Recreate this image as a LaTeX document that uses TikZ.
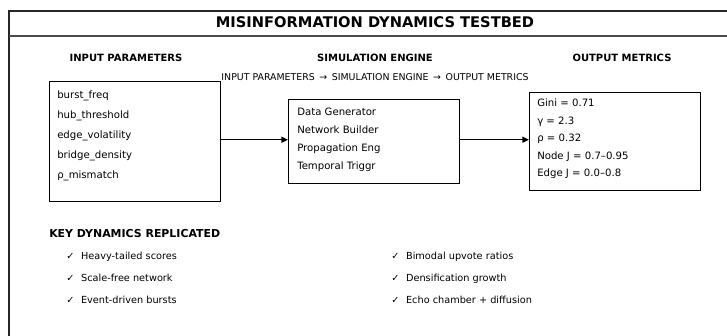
\documentclass[tikz,border=0pt]{standalone}
\usepackage{fontspec}
\setmainfont{DejaVu Sans}
\usetikzlibrary{arrows.meta}
\begin{document}
\begin{tikzpicture}[x=0.75pt,y=-0.75pt,
  box/.style={draw=black,line width=1.1pt,inner sep=0pt,anchor=north west},
  item/.style={anchor=mid west,inner sep=0pt,font=\fontsize{7.6pt}{9pt}\selectfont},
  head/.style={anchor=mid,inner sep=0pt,font=\fontsize{7.5pt}{9pt}\selectfont\bfseries},
  chk/.style={anchor=mid west,inner sep=0pt,font=\fontsize{7.3pt}{9pt}\selectfont},
  arr/.style={line width=1pt,-{Triangle[length=5pt,width=4.5pt]}}]
\useasboundingbox (0,0) rectangle (727,335);
\clip (0,0) rectangle (727,335);
\draw[line width=1.2pt,draw=black!85] (9,11) rectangle (760,360);
\draw[line width=0.8pt,draw=black!70] (9,36) -- (760,36);
\node[anchor=mid,inner sep=0pt,font=\fontsize{11pt}{12pt}\selectfont\bfseries] (title) at (375,23.5) {MISINFORMATION DYNAMICS TESTBED};
\node[head] (h1) at (126,58) {INPUT PARAMETERS};
\node[head] (h2) at (375,58) {SIMULATION ENGINE};
\node[head] (h3) at (622,58) {OUTPUT METRICS};
\node[anchor=mid,inner sep=0pt,font=\fontsize{7.05pt}{9pt}\selectfont] (sub) at (375,77) {INPUT PARAMETERS \,→\, SIMULATION ENGINE \,→\, OUTPUT METRICS};
% boxes
\node[box,minimum width=171*0.75pt,minimum height=120*0.75pt] (inbox) at (49,81) {};
\node[box,minimum width=171*0.75pt,minimum height=84*0.75pt] (simbox) at (288,99) {};
\node[box,minimum width=171*0.75pt,minimum height=98*0.75pt] (outbox) at (529,92) {};
% input items
\node[item] (i1) at (57,95) {burst\_freq};
\node[item] (i2) at (57,115) {hub\_threshold};
\node[item] (i3) at (57,135) {edge\_volatility};
\node[item] (i4) at (57,155) {bridge\_density};
\node[item] (i5) at (57,175) {ρ\_mismatch};
% sim items
\node[item] (s1) at (297,112) {Data Generator};
\node[item] (s2) at (297,130) {Network Builder};
\node[item] (s3) at (297,148) {Propagation Eng};
\node[item] (s4) at (297,166) {Temporal Triggr};
% output items
\node[item] (o1) at (537,103) {Gini = 0.71};
\node[item] (o2) at (537,120.5) {γ = 2.3};
\node[item] (o3) at (537,138) {ρ = 0.32};
\node[item] (o4) at (537,155.5) {Node J = 0.7–0.95};
\node[item] (o5) at (537,173) {Edge J = 0.0–0.8};
% arrows
\draw[arr] ([yshift=1.5pt]inbox.east) -- ([yshift=1.5pt]simbox.west);
\draw[arr] ([yshift=1.5pt]simbox.east) -- ([yshift=1.5pt]outbox.west);
% key dynamics
\node[anchor=mid west,inner sep=0pt,font=\fontsize{8.2pt}{10pt}\selectfont\bfseries] (kd) at (49,234) {KEY DYNAMICS REPLICATED};
\node[chk] (k1) at (66,256) {✓\hspace{5pt}Heavy-tailed scores};
\node[chk] (k2) at (66,278) {✓\hspace{5pt}Scale-free network};
\node[chk] (k3) at (66,300) {✓\hspace{5pt}Event-driven bursts};
\node[chk] (k4) at (391,256) {✓\hspace{5pt}Bimodal upvote ratios};
\node[chk] (k5) at (391,278) {✓\hspace{5pt}Densification growth};
\node[chk] (k6) at (391,300) {✓\hspace{5pt}Echo chamber + diffusion};
\end{tikzpicture}
\end{document}
